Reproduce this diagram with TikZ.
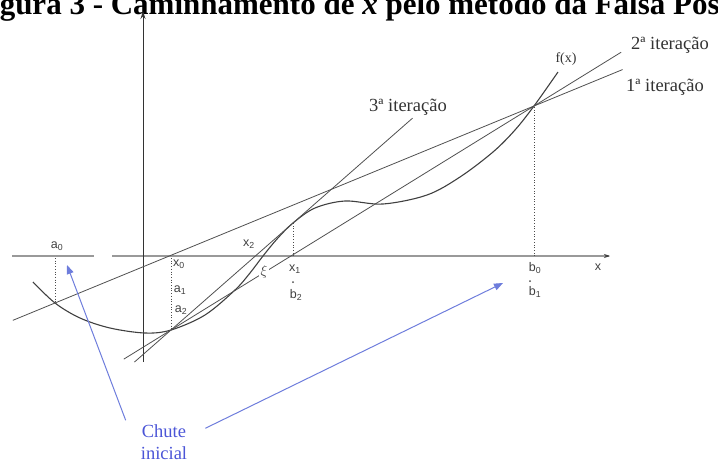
\documentclass[tikz,border=0pt]{standalone}
\usepackage{fontspec}
\setmainfont{Liberation Serif}
\setsansfont{Liberation Sans}
\usetikzlibrary{calc,arrows.meta}
\definecolor{chute}{RGB}{75,85,215}
\definecolor{chuteline}{RGB}{110,125,220}
\definecolor{ink}{RGB}{80,80,80}
\begin{document}
\begin{tikzpicture}[x=1pt,y=-1pt,
  lab/.style={font=\sffamily\fontsize{12.5}{13}\selectfont, inner sep=0.5pt, text=black!75},
  iter/.style={font=\fontsize{18.5}{19}\selectfont, inner sep=0pt, text=black!80},
  gline/.style={draw=ink, line width=0.8pt},
  dotv/.style={draw=black!70, line width=0.7pt, dotted},
  blue arrow/.style={draw=chuteline, line width=1pt, -{Triangle[length=9pt,width=7pt]}}]
\useasboundingbox (0,0) rectangle (718,464);
\clip (0,0) rectangle (718,464);
% title (cropped at the top)
\node[anchor=base west, inner sep=0pt, font=\bfseries\fontsize{31}{33}\selectfont] (title) at (-28,14)
  {Figura 3 - Caminhamento de \textit{x} pelo método da Falsa Posição};
% key points
\coordinate (A0) at (55,303);
\coordinate (B0) at (534,106);
\coordinate (X0) at (171,330);
\coordinate (X1) at (293,223);
% axes
\coordinate (xl1) at (12,256); \coordinate (xl2) at (94,256);
\coordinate (xr1) at (112,256); \coordinate (xr2) at (609,256);
\draw[draw=black!40, line width=1.6pt] (xl1) -- (xl2);
\draw[draw=black!40, line width=1.6pt] (xr1) -- (xr2);
\draw[draw=black!75, line width=0.8pt, -{Stealth[length=6pt,width=4pt]}] (xr2) ++(-2,0) -- ++(3,0);
\coordinate (yb) at (143,362); \coordinate (yt) at (143,11);
\draw[draw=black!80, line width=0.9pt, -{Stealth[length=8pt,width=5pt]}] (yb) -- (yt);
% function curve
\draw[gline, line width=1.1pt, draw=black!75] plot[smooth, tension=0.55] coordinates {
 (33,282) (55,303) (80,318) (110,328) (145,333) (171,330) (205,315) (235,290)
 (250,273) (263,256) (277,239) (293,223) (315,208) (345,201) (383,204) (427,195)
 (460,177) (493,152) (515,130) (534,106) (558,72)};
% iteration lines
\draw[gline] ($(A0)!-0.088!(B0)$) coordinate (l1a) -- ($(A0)!1.185!(B0)$) coordinate (l1b);
\draw[gline] ($(X0)!-0.13!(B0)$) coordinate (l2a) -- ($(X0)!1.24!(B0)$) coordinate (l2b);
\draw[gline] ($(X0)!-0.30!(X1)$) coordinate (l3a) -- ($(X0)!1.98!(X1)$) coordinate (l3b);
% dotted verticals
\coordinate (a0top) at (55,258);
\draw[dotv] (a0top) -- (A0);
\coordinate (x0top) at (171,258);
\draw[dotv] (x0top) -- (X0);
\coordinate (x1ax) at (293,256);
\draw[dotv] (x1ax) -- (X1);
\coordinate (b0ax) at (534,256);
\draw[dotv] (b0ax) -- (B0);
% labels
\node[lab] (la0) at (57,246) {a\textsubscript{0}};
\node[lab] (lx0) at (179,264) {x\textsubscript{0}};
\node[lab] (la1) at (180,290) {a\textsubscript{1}};
\node[lab] (la2) at (181,310) {a\textsubscript{2}};
\node[lab] (lx2) at (249,244) {x\textsubscript{2}};
\node[lab, fill=white, inner sep=1.5pt, font=\fontsize{15}{15}\selectfont] (lxi) at (264,272) {$\xi$};
\node[lab] (lx1) at (295,269) {x\textsubscript{1}};
\fill[black!70] (293,282) circle (1pt);
\node[lab] (lb2) at (296,295) {b\textsubscript{2}};
\node[lab] (lb0) at (535,268) {b\textsubscript{0}};
\fill[black!70] (530,281) circle (1pt);
\node[lab] (lb1) at (535,292) {b\textsubscript{1}};
\node[lab] (lx) at (598,267) {x};
\node[font=\fontsize{14}{14}\selectfont, inner sep=0pt, text=black!80] (lf) at (566,59) {f(x)};
\node[iter] (it3) at (408,107) {3ª iteração};
\node[iter] (it2) at (670,45) {2ª iteração};
\node[iter] (it1) at (665,87) {1ª iteração};
% chute inicial
\node[align=center, text=chute, inner sep=0pt, font=\fontsize{18.5}{22}\selectfont] (chute) at (164,442) {Chute\\inicial};
\coordinate (arr1) at (67,265);
\coordinate (arr2) at (503,283);
\draw[blue arrow] (chute.north west) ++(-15,-4) -- (arr1);
\draw[blue arrow] (chute.north east) ++(18,4) -- (arr2);
\end{tikzpicture}
\end{document}
